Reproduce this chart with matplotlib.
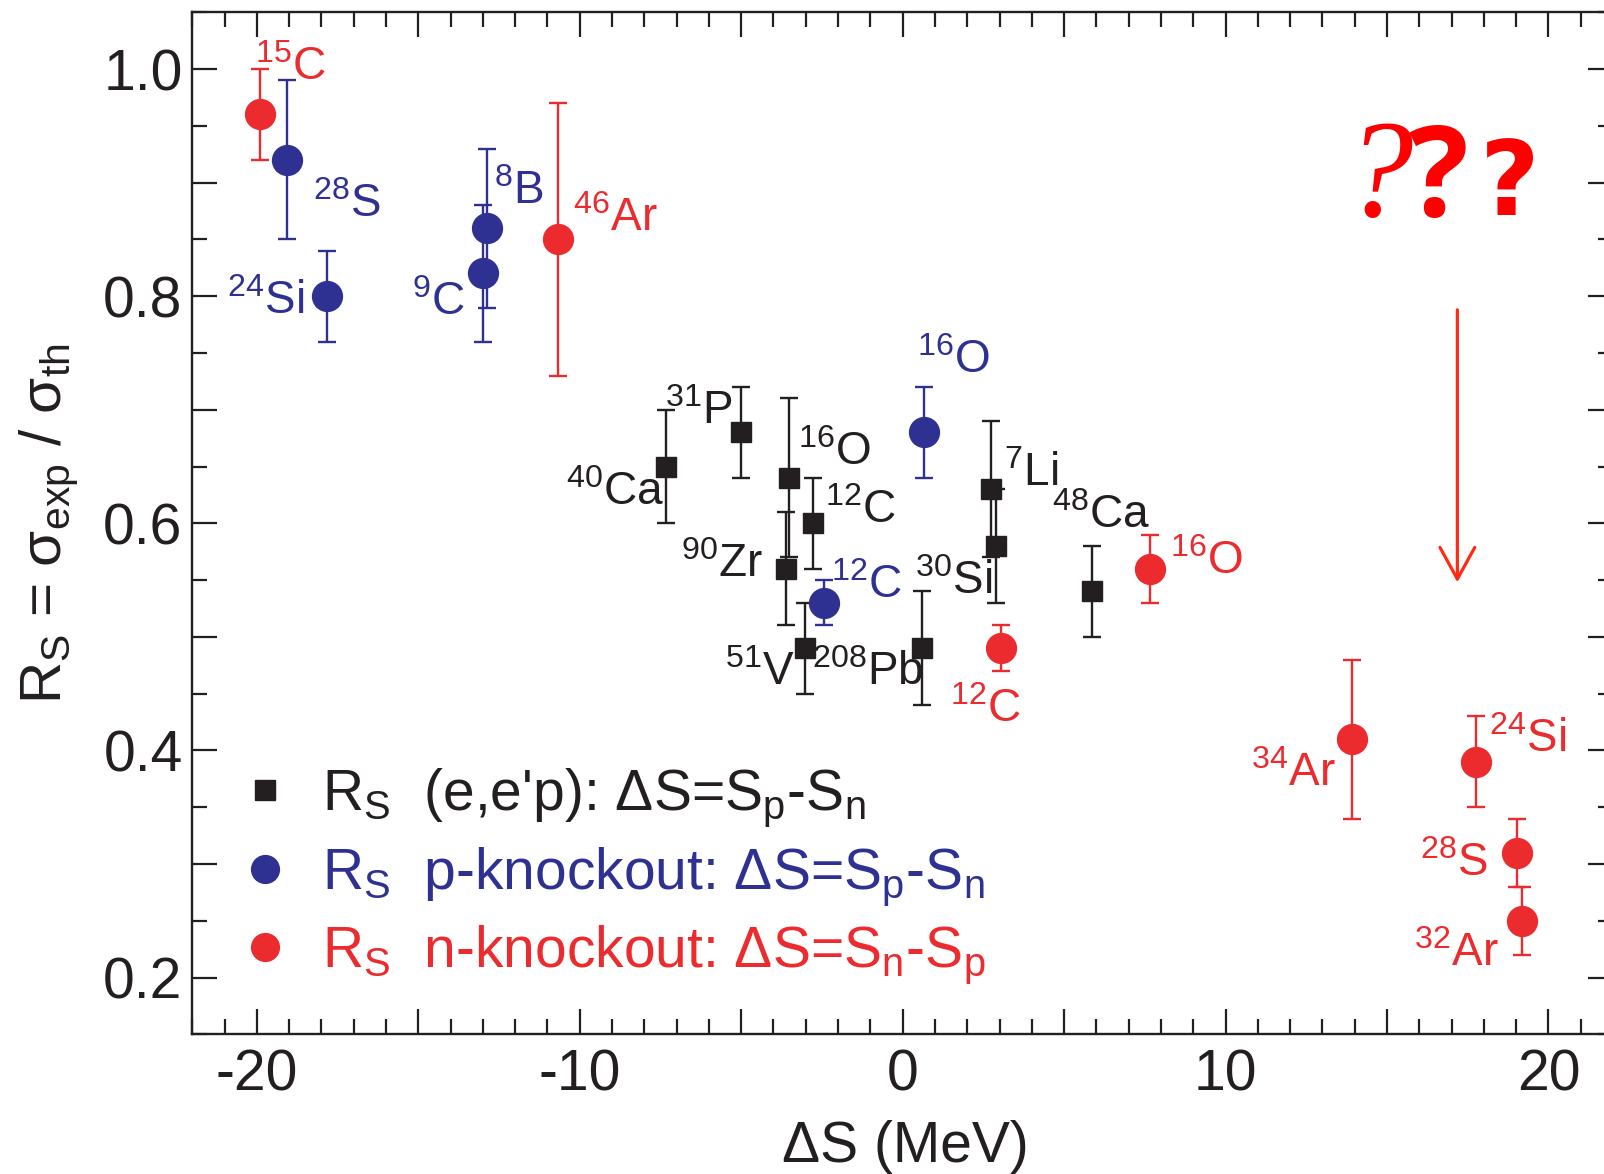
import numpy as np
import matplotlib
matplotlib.use("Agg")
import matplotlib.pyplot as plt
from matplotlib.ticker import MultipleLocator, FuncFormatter
from matplotlib.lines import Line2D

plt.rcParams['font.family'] = ['Liberation Sans', 'DejaVu Sans']
plt.rcParams['mathtext.default'] = 'regular'
plt.rcParams['axes.unicode_minus'] = False

# (e,e'p) data, black squares
eep_names = ['40Ca', '31P', '16O', '90Zr', '12C', '51V', '208Pb', '7Li', '30Si', '48Ca']
eep_ds = [-7.32, -5.02, -3.52, -3.62, -2.77, -3.01, 0.60, 2.73, 2.88, 5.87]
eep_rs = [0.65, 0.68, 0.64, 0.56, 0.60, 0.49, 0.49, 0.63, 0.58, 0.54]
eep_err = [0.05, 0.04, 0.07, 0.05, 0.04, 0.04, 0.05, 0.06, 0.05, 0.04]

# p-knockout, blue circles
pko_names = ['28S', '24Si', '8B', '9C', '16O', '12C']
pko_ds = [-19.07, -17.83, -12.86, -13.00, 0.65, -2.45]
pko_rs = [0.92, 0.80, 0.86, 0.82, 0.68, 0.53]
pko_err = [0.07, 0.04, 0.07, 0.06, 0.04, 0.02]

# n-knockout, red circles
nko_names = ['15C', '46Ar', '12C', '16O', '34Ar', '24Si', '28S', '32Ar']
nko_ds = [-19.89, -10.67, 3.05, 7.65, 13.91, 17.77, 19.02, 19.17]
nko_rs = [0.96, 0.85, 0.49, 0.56, 0.41, 0.39, 0.31, 0.25]
nko_err = [0.04, 0.12, 0.02, 0.03, 0.07, 0.04, 0.03, 0.03]

# label offsets from the point (pixels), and alignment
eep_off = [(-2, -38, 'right'), (-8, 8, 'right'), (9, 13, 'left'), (-23, -8, 'right'),
           (12, 0, 'left'), (-11, -37, 'right'), (1, -37, 'right'), (13, 3, 'left'),
           (-4, -48, 'right'), (-40, 63, 'left')]
pko_off = [(26, -57, 'left'), (-23, -18, 'right'), (7, 24, 'left'), (-18, -42, 'right'),
           (-7, 59, 'left'), (7, 5, 'left')]
nko_off = [(-5, 34, 'left'), (15, 8, 'left'), (-51, -74, 'left'), (20, -5, 'left'),
           (-16, -47, 'right'), (13, 10, 'left'), (-29, -23, 'right'), (-23, -45, 'right')]

BLACK = '#231F20'
BLUE = '#2E3192'
RED = '#EC2B2E'

fig = plt.figure(figsize=(16.04, 11.74), dpi=100)
ax = fig.add_axes([192.3 / 1604, (1174 - 1034.3) / 1174, (1613 - 192.3) / 1604, 1022 / 1174])
ax.set_xlim(-22, 22)
ax.set_ylim(0.15, 1.05)

ekw = dict(linestyle='none', capsize=6.5, elinewidth=1.7, capthick=1.7)
ax.errorbar(eep_ds, eep_rs, yerr=eep_err, fmt='s', color=BLACK, markersize=15, **ekw)
ax.errorbar(pko_ds, pko_rs, yerr=pko_err, fmt='o', color=BLUE, markersize=21.5, **ekw)
ax.errorbar(nko_ds, nko_rs, yerr=nko_err, fmt='o', color=RED, markersize=21.5, **ekw)


def nuc_label(name):
    i = 0
    while name[i].isdigit():
        i += 1
    return r'$^{%s}$%s' % (name[:i], name[i:])


for names, xs, ys, offs, col in [(eep_names, eep_ds, eep_rs, eep_off, BLACK),
                                 (pko_names, pko_ds, pko_rs, pko_off, BLUE),
                                 (nko_names, nko_ds, nko_rs, nko_off, RED)]:
    for n, x, y, (dx, dy, ha) in zip(names, xs, ys, offs):
        ax.annotate(nuc_label(n), (x, y), xytext=(dx * 0.72, dy * 0.72),
                    textcoords='offset points', ha=ha, va='baseline',
                    fontsize=33, color=col)

# question marks and arrow
ax.text(0.8100, 0.8007, '?', transform=ax.transAxes, fontsize=100, color='#FF0000',
        family='Liberation Serif', style='italic', ha='left', va='baseline')
ax.text(0.8560, 0.8007, '?', transform=ax.transAxes, fontsize=90, color='#FF0000',
        family='Open Sans', weight='bold', ha='left', va='baseline')
ax.text(0.9064, 0.8017, '?', transform=ax.transAxes, fontsize=74, color='#FF0000',
        family='DejaVu Sans', weight='bold', ha='left', va='baseline')
ax.annotate('', xy=(17.18, 0.548), xytext=(17.18, 0.788),
            arrowprops=dict(arrowstyle='->,head_length=0.4,head_width=0.22',
                            color='#FF2A12', lw=2.3, mutation_scale=57,
                            shrinkA=0, shrinkB=0))

# axes styling
for s in ax.spines.values():
    s.set_linewidth(1.7)
    s.set_color(BLACK)
ax.xaxis.set_major_locator(MultipleLocator(5))
ax.xaxis.set_minor_locator(MultipleLocator(1))
ax.yaxis.set_major_locator(MultipleLocator(0.1))
ax.yaxis.set_minor_locator(MultipleLocator(0.05))
ax.xaxis.set_major_formatter(FuncFormatter(lambda v, p: '%d' % round(v) if round(v) % 10 == 0 else ''))
ax.yaxis.set_major_formatter(FuncFormatter(lambda v, p: '%.1f' % v if round(v * 10) % 2 == 0 else ''))
ax.tick_params(which='both', direction='in', top=True, right=True, width=1.6, color=BLACK,
               labelsize=41, labelcolor=BLACK)
ax.tick_params(which='major', length=18)
ax.tick_params(which='minor', length=11)
ax.tick_params(axis='x', pad=10)
ax.tick_params(axis='y', pad=7)

ax.set_xlabel('ΔS (MeV)', fontsize=41, color=BLACK)
ax.xaxis.set_label_coords(0.5016, -0.084)
ax.xaxis.label.set_va('top')
ax.set_ylabel('R$_{S}$ = σ$_{exp}$ / σ$_{th}$', fontsize=42, color=BLACK)
ax.yaxis.set_label_coords(-0.079, 0.5)

handles = [Line2D([], [], linestyle='none', marker='s', color=BLACK, markersize=15),
           Line2D([], [], linestyle='none', marker='o', color=BLUE, markersize=20),
           Line2D([], [], linestyle='none', marker='o', color=RED, markersize=20)]
labels = ["R$_{S}$  (e,e'p): ΔS=S$_{p}$-S$_{n}$",
          'R$_{S}$  p-knockout: ΔS=S$_{p}$-S$_{n}$',
          'R$_{S}$  n-knockout: ΔS=S$_{n}$-S$_{p}$']
ax.legend(handles, labels, loc='upper left', bbox_to_anchor=(0.035, 0.262),
          frameon=False, fontsize=41, labelcolor=[BLACK, BLUE, RED],
          handlelength=0.8, handletextpad=0.6, labelspacing=0.28,
          borderpad=0, borderaxespad=0)

fig.savefig('out.png', dpi=100)
